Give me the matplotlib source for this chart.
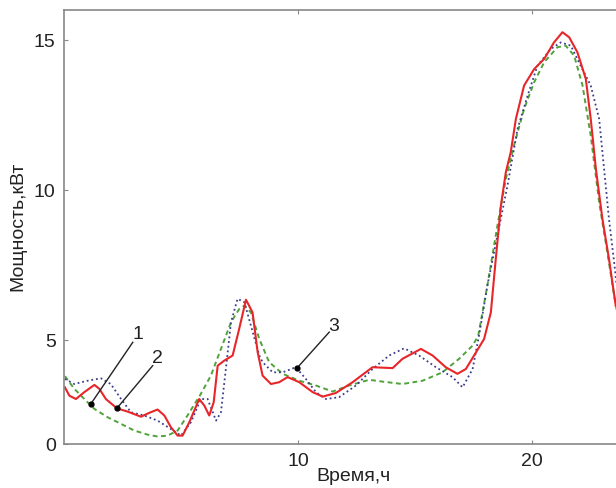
import matplotlib
matplotlib.use("Agg")
import matplotlib.pyplot as plt

# Curve 2 (red, solid)
red_x = [0.04, 0.23, 0.51, 0.87, 1.3, 1.51, 1.79, 2.26, 2.72, 3.29, 3.65, 4.0, 4.29, 4.57, 4.86,
         5.07, 5.36, 5.78, 6.0, 6.21, 6.4, 6.57, 6.85, 7.21, 7.49, 7.78, 8.06, 8.28, 8.49, 8.85,
         9.2, 9.56, 10.06, 10.63, 11.06, 11.62, 12.34, 13.19, 14.05, 14.47, 15.26, 15.76, 16.32,
         16.82, 17.18, 17.75, 17.96, 18.25, 18.46, 18.68, 18.89, 19.1, 19.32, 19.67, 20.1, 20.53,
         20.95, 21.31, 21.6, 21.95, 22.31, 22.52, 22.74, 23.02, 23.3, 23.59]
red_y = [3.42, 3.14, 3.03, 3.26, 3.5, 3.37, 3.03, 2.72, 2.61, 2.44, 2.57, 2.68, 2.48, 2.09, 1.81,
         1.81, 2.26, 3.03, 2.81, 2.48, 2.92, 4.14, 4.31, 4.48, 5.37, 6.34, 5.92, 4.59, 3.81, 3.53,
         3.59, 3.76, 3.59, 3.26, 3.11, 3.23, 3.59, 4.09, 4.06, 4.37, 4.7, 4.48, 4.09,
         3.87, 4.03, 4.76, 5.03, 5.92, 7.7, 9.48, 10.59, 11.26, 12.37, 13.48, 14.03, 14.37,
         14.92, 15.26, 15.09, 14.59, 13.7, 12.37, 10.7, 9.03, 7.7, 6.14]

# Curve 3 (blue, dotted)
blue_x = [0.04, 0.44, 1.01, 1.58, 2.0, 2.44, 2.86, 3.43, 4.0, 4.57, 5.0, 5.43, 5.85, 6.14, 6.5,
          6.71, 6.92, 7.14, 7.42, 7.71, 7.99, 8.35, 8.49, 8.92, 9.35, 9.91, 10.34, 10.77, 11.2,
          11.76, 12.48, 13.19, 13.9, 14.54, 15.18, 15.9, 16.61, 17.04, 17.47, 17.77, 18.1, 18.53,
          18.96, 19.39, 19.82, 20.24, 20.81, 21.24, 21.67, 22.09, 22.52, 22.88, 23.09, 23.3,
          23.52, 23.63]
blue_y = [3.7, 3.53, 3.64, 3.72, 3.53, 3.03, 2.59, 2.48, 2.31, 2.03, 1.81, 2.26, 3.03, 3.03, 2.31,
          2.59, 4.03, 5.59, 6.37, 6.26, 5.48, 4.48, 4.26, 3.92, 3.92, 4.09, 3.7, 3.26, 3.03,
          3.09, 3.48, 4.03, 4.48, 4.72, 4.48, 4.09, 3.76, 3.42, 4.03, 5.26, 6.81, 8.48,
          10.14, 12.03, 13.14, 14.14, 14.7, 14.92, 14.81, 14.14, 13.48, 12.37, 10.7, 9.03,
          7.59, 6.81]

# Curve 1 (green, dashed)
green_x = [0.04, 0.44, 0.87, 1.3, 1.87, 2.44, 3.0, 3.58, 4.0, 4.43, 4.86, 5.28, 5.85, 6.28, 6.71,
           7.14, 7.49, 7.71, 7.99, 8.35, 8.77, 9.35, 10.06, 10.77, 11.48, 12.19, 13.05, 13.62,
           14.47, 15.33, 16.18, 16.89, 17.47, 17.71, 18.1, 18.53, 18.89, 19.24, 19.67, 20.1,
           20.53, 21.1, 21.45, 21.81, 22.17, 22.52, 22.88, 23.23, 23.52, 23.63]
green_y = [3.79, 3.37, 3.03, 2.7, 2.42, 2.2, 1.98, 1.84, 1.78, 1.81, 1.98, 2.48, 3.2, 3.81, 4.7,
           5.59, 6.03, 6.14, 5.92, 5.03, 4.26, 3.87, 3.64, 3.48, 3.28, 3.48, 3.67, 3.61,
           3.53, 3.64, 3.92, 4.37, 4.81, 5.14, 6.81, 8.81, 10.37, 11.48, 12.7, 13.59,
           14.26, 14.76, 14.81, 14.48, 13.48, 11.81, 9.59, 7.92, 6.48, 6.0]

# Annotations: label, point (x, y), line end (x, y), text position
ann_labels = ["1", "2", "3"]
ann_points = [(1.15, 2.87), (2.26, 2.72), (9.96, 4.06)]
ann_ends = [(2.94, 4.92), (3.79, 4.14), (11.34, 5.26)]
ann_text = [(3.17, 5.22), (4.0, 4.42), (11.53, 5.48)]

x_ticks = [10, 20]
x_ticklabels = ["10", "20"]
y_ticks = [1.53, 5, 10, 15]
y_ticklabels = ["0", "5", "10", "15"]

plt.rcParams['font.family'] = ['Liberation Sans', 'DejaVu Sans']

fig = plt.figure(figsize=(6.16, 4.89), dpi=100)
ax = fig.add_axes([64/616, 1-445/489, (616-64)/616, (445-11)/489])

ax.plot(green_x, green_y, color='#4fa33a', lw=1.4, ls=(0, (2.5, 1.8)))
ax.plot(blue_x, blue_y, color='#3b3d8c', lw=1.3, ls=(0, (1, 1.6)))
ax.plot(red_x, red_y, color='#e8262a', lw=1.5)

for lab, p, e, t in zip(ann_labels, ann_points, ann_ends, ann_text):
    ax.plot([p[0], e[0]], [p[1], e[1]], color='#222222', lw=1.0)
    ax.plot([p[0]], [p[1]], 'o', color='black', ms=3.5)
    ax.text(t[0], t[1], lab, fontsize=14, ha='center', va='center', color='#222222')

ax.set_xlim(0, 23.6)
ax.set_ylim(1.53, 16.0)
ax.set_xticks(x_ticks)
ax.set_xticklabels(x_ticklabels)
ax.set_yticks(y_ticks)
ax.set_yticklabels(y_ticklabels)
ax.tick_params(direction='in', length=3, colors='#888888', labelcolor='#222222',
               labelsize=14, top=True, pad=6)

for s in ['left', 'bottom', 'top']:
    ax.spines[s].set_color('#888888')
    ax.spines[s].set_linewidth(1.2)
ax.spines['right'].set_visible(False)

ax.set_xlabel('Время,ч', fontsize=14, color='#222222')
ax.xaxis.set_label_coords(0.5236, -0.052)
ax.set_ylabel('Мощность,кВт', fontsize=14, color='#222222')
ax.yaxis.set_label_coords(-0.083, 0.505)
ax.yaxis.label.set_va('center')

fig.savefig('out.png', dpi=100)
